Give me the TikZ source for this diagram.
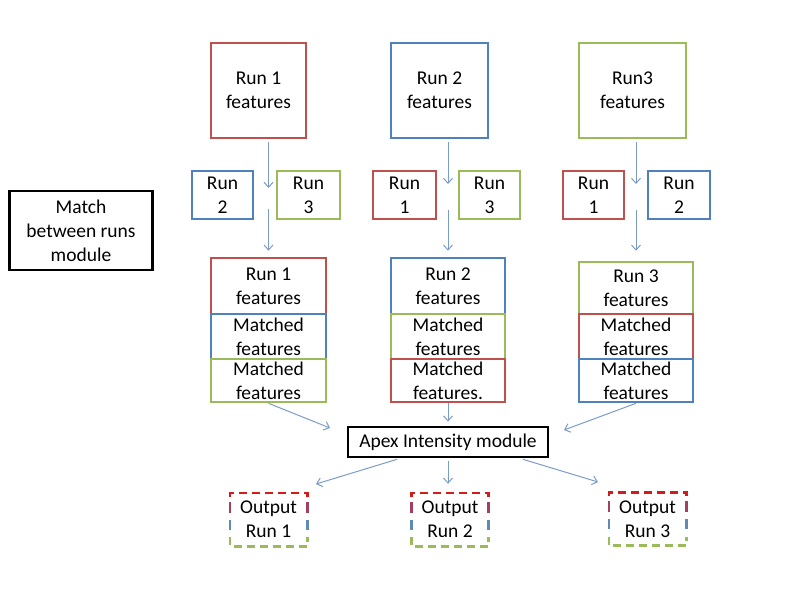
\documentclass[tikz,border=0pt]{standalone}
\usepackage{fontspec}
\setmainfont{Carlito}
\usetikzlibrary{arrows.meta,calc}
\definecolor{cred}{HTML}{C0504D}
\definecolor{cblue}{HTML}{4F81BD}
\definecolor{cgreen}{HTML}{9BBB59}
\definecolor{arrblue}{HTML}{7C9CC8}
\definecolor{ored}{HTML}{D41A1A}
\definecolor{oside}{HTML}{A3405E}
\definecolor{oblue}{HTML}{5F8AB8}
\begin{document}
\begin{tikzpicture}[x=1pt,y=-1pt,
  txt/.style={font=\fontsize{19.5}{24}\selectfont, align=center, inner sep=0pt},
  box/.style={txt, draw, line width=2.6pt, rectangle},
  bigbox/.style={box, minimum height=95pt},
  smallbox/.style={box, minimum height=48pt},
  stackbox/.style={box, minimum width=114pt},
  blackbox/.style={box, draw=black, line width=2.8pt},
  outbox/.style={txt, minimum width=77pt, minimum height=53pt},
  arr/.style={draw=arrblue, line width=1pt, -{Straight Barb[length=5pt,width=9pt]}},
  odash/.style={line width=2.6pt, dash pattern=on 8pt off 5pt},
  oseg/.style={line width=2.6pt}
]
\useasboundingbox (0,0) rectangle (800,600);

% top feature boxes
\node[bigbox, draw=cred, minimum width=95pt] (r1) at (258.5,90.5) {Run 1\\features};
\node[bigbox, draw=cblue, minimum width=97pt] (r2) at (439.5,90.5) {Run 2\\features};
\node[bigbox, draw=cgreen, minimum width=107pt] (r3) at (632.5,90.5) {Run3\\features};

% small run boxes
\node[smallbox, draw=cblue, minimum width=61pt] (a12) at (222.5,195) {Run\\2};
\node[smallbox, draw=cgreen, minimum width=63pt] (a13) at (308.5,195) {Run\\3};
\node[smallbox, draw=cred, minimum width=63pt] (a21) at (404.5,195) {Run\\1};
\node[smallbox, draw=cgreen, minimum width=61pt] (a23) at (489.5,195) {Run\\3};
\node[smallbox, draw=cred, minimum width=61pt] (a31) at (593.5,195) {Run\\1};
\node[smallbox, draw=cblue, minimum width=62pt] (a32) at (679,195) {Run\\2};

% match module
\node[blackbox, minimum width=143pt, minimum height=79pt] (match) at (81,230.5) {Match\\between runs\\module};

% stacks
\node[stackbox, draw=cred, minimum width=115pt, minimum height=56pt] (s1a) at (268.5,286) {Run 1\\features};
\node[stackbox, draw=cblue, minimum width=115pt, minimum height=45pt] (s1b) at (268.5,336.5) {Matched\\features};
\node[stackbox, draw=cgreen, minimum width=115pt, minimum height=43pt] (s1c) at (268.5,380.5) {Matched\\features};

\node[stackbox, draw=cblue, minimum height=56pt] (s2a) at (448,286) {Run 2\\features};
\node[stackbox, draw=cgreen, minimum height=45pt] (s2b) at (448,336.5) {Matched\\features};
\node[stackbox, draw=cred, minimum height=43pt] (s2c) at (448,380.5) {Matched\\features.};

\node[stackbox, draw=cgreen, minimum height=52pt] (s3a) at (636,288) {Run 3\\features};
\node[stackbox, draw=cred, minimum height=45pt] (s3b) at (636,336.5) {Matched\\features};
\node[stackbox, draw=cblue, minimum height=43pt] (s3c) at (636,380.5) {Matched\\features};

% apex module
\node[blackbox, minimum width=200pt, minimum height=30pt] (apex) at (448,442) {Apex Intensity module};

% outputs
\node[outbox] (o1) at (268.5,519.5) {Output\\Run 1};
\node[outbox] (o2) at (450,519.5) {Output\\Run 2};
\node[outbox] (o3) at (647.5,519) {Output\\Run 3};
\foreach \o in {o1,o2,o3}{
  \draw[odash, ored] ([yshift=-4pt]\o.north west) -- (\o.north west) -- (\o.north east) -- ([yshift=-4pt]\o.north east);
  \draw[oseg, oside] ([yshift=-9pt]\o.north west) -- ([yshift=-20pt]\o.north west);
  \draw[oseg, oside] ([yshift=-9pt]\o.north east) -- ([yshift=-20pt]\o.north east);
  \draw[oseg, oblue] ([yshift=-27pt]\o.north west) -- ([yshift=-37pt]\o.north west);
  \draw[oseg, oblue] ([yshift=-27pt]\o.north east) -- ([yshift=-37pt]\o.north east);
  \draw[odash, cgreen] ([yshift=9pt]\o.south west) -- (\o.south west) -- (\o.south east) -- ([yshift=9pt]\o.south east);
}

% free ends of connectors
\coordinate (c1) at (268.5,188);
\coordinate (d1) at (268.5,209);
\coordinate (c2) at (448,184);
\coordinate (d2) at (448,210);
\coordinate (c3) at (636,184);
\coordinate (d3) at (636,210);
\coordinate (inL) at (330,428);
\coordinate (inR) at (564,430);
\coordinate (outL) at (316,484);
\coordinate (outR) at (598,482);

% connectors
\draw[arr, shorten <=3pt] (r1.south -| s1a.north) -- (c1);
\draw[arr, shorten >=6pt] (d1) -- (s1a.north);
\draw[arr, shorten <=3pt] (r2.south -| s2a.north) -- (c2);
\draw[arr, shorten >=6pt] (d2) -- (s2a.north);
\draw[arr, shorten <=3pt] (r3.south -| s3a.north) -- (c3);
\draw[arr, shorten >=10pt] (d3) -- (s3a.north);

\draw[arr] (s1c.south) -- (inL);
\draw[arr, shorten >=4pt] (s2c.south) -- (apex.north);
\draw[arr] (s3c.south) -- (inR);

\draw[arr, shorten <=3pt] ([xshift=-48pt]apex.south) -- (outL);
\draw[arr, shorten <=3pt, shorten >=9pt] (apex.south) -- (apex.south |- o2.north);
\draw[arr, shorten <=3pt] ([xshift=72pt]apex.south) -- (outR);
\end{tikzpicture}
\end{document}
